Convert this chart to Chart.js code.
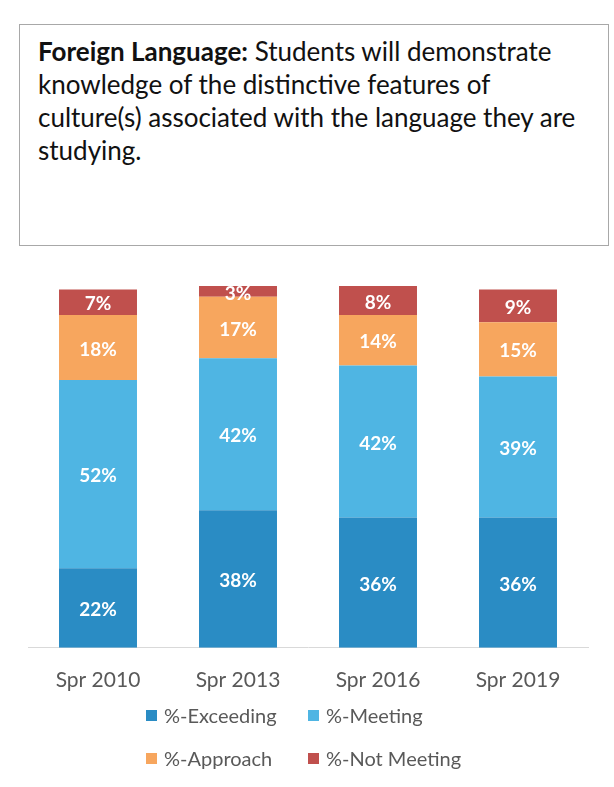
<!DOCTYPE html>
<html>
<head>
<meta charset="utf-8">
<script src="https://cdn.jsdelivr.net/npm/chart.js@4.4.1/dist/chart.umd.min.js"></script>
<style>
  html, body { margin: 0; padding: 0; background: #fff; }
  body { width: 614px; height: 787px; position: relative; overflow: hidden; font-family: Lato, "Open Sans", sans-serif; }
  #titleBox {
    position: absolute; left: 19px; top: 24px; width: 570px; height: 210px;
    border: 1px solid #a8a8a8; padding: 10px 0 0 18px;
    font-size: 26px; line-height: 33px; color: #111;
  }
  #titleBox b { font-weight: 700; }
  #chartWrap { position: absolute; left: 0; top: 270px; width: 614px; height: 451px; }
  #legend {
    position: absolute; left: 146px; top: 703px;
    display: grid; grid-template-columns: 162px auto; row-gap: 19px;
    font-size: 20px; color: #595959;
  }
  .item { display: flex; align-items: center; height: 24px; }
  .box { width: 11px; height: 11px; margin-right: 7px; }
</style>
</head>
<body>
<div id="titleBox"><b>Foreign Language:</b> Students will demonstrate<br>knowledge of the distinctive features of<br>culture(s) associated with the language they are<br>studying.</div>
<div id="chartWrap"><canvas id="resultsChart"></canvas></div>
<div id="legend"></div>

<script>
// Semesters tested
const semesters = ['Spr 2010', 'Spr 2013', 'Spr 2016', 'Spr 2019'];

// Percent of students per level (bottom to top of each bar)
const exceeding  = [22, 38, 36, 36];
const meeting    = [52, 42, 42, 39];
const approach   = [18, 17, 14, 15];
const notMeeting = [7, 3, 8, 9];

const seriesNames  = ['%-Exceeding', '%-Meeting', '%-Approach', '%-Not Meeting'];
const seriesColors = ['#2a8cc4', '#4fb5e3', '#f7a65e', '#c0504d'];

// Writes the percentage in the middle of every segment
const segmentLabels = {
  id: 'segmentLabels',
  afterDatasetsDraw(chart) {
    const ctx = chart.ctx;
    const area = chart.chartArea;
    ctx.save();
    ctx.beginPath();
    ctx.rect(area.left, area.top, area.right - area.left, area.bottom - area.top);
    ctx.clip();
    ctx.font = 'bold 19px Lato, sans-serif';
    ctx.fillStyle = '#ffffff';
    ctx.textAlign = 'center';
    ctx.textBaseline = 'middle';
    chart.data.datasets.forEach((ds, i) => {
      const meta = chart.getDatasetMeta(i);
      meta.data.forEach((bar, j) => {
        const y = (bar.y + bar.base) / 2 + 2;
        ctx.fillText(ds.data[j] + '%', bar.x, y);
      });
    });
    ctx.restore();
  }
};

const values = [exceeding, meeting, approach, notMeeting];

const chart = new Chart(document.getElementById('resultsChart').getContext('2d'), {
  type: 'bar',
  data: {
    labels: semesters,
    datasets: values.map((v, i) => ({
      label: seriesNames[i],
      data: v,
      backgroundColor: seriesColors[i],
      borderWidth: 0,
      categoryPercentage: 1,
      barPercentage: 0.557
    }))
  },
  options: {
    responsive: true,
    maintainAspectRatio: false,
    animation: false,
    layout: { padding: { left: 28, right: 26, top: 16, bottom: 8 } },
    plugins: {
      legend: { display: false },
      tooltip: { enabled: false }
    },
    scales: {
      x: {
        stacked: true,
        grid: { display: false, drawTicks: false },
        border: { color: '#d9d9d9', width: 1 },
        ticks: { color: '#595959', font: { family: 'Lato', size: 21 }, padding: 20 }
      },
      y: {
        stacked: true,
        display: false,
        min: 0,
        max: 100
      }
    }
  },
  plugins: [segmentLabels]
});

// Two-column legend under the chart
const legendEl = document.getElementById('legend');
chart.data.datasets.forEach(ds => {
  const item = document.createElement('div');
  item.className = 'item';
  const box = document.createElement('span');
  box.className = 'box';
  box.style.background = ds.backgroundColor;
  item.appendChild(box);
  item.appendChild(document.createTextNode(ds.label));
  legendEl.appendChild(item);
});
</script>
</body>
</html>
